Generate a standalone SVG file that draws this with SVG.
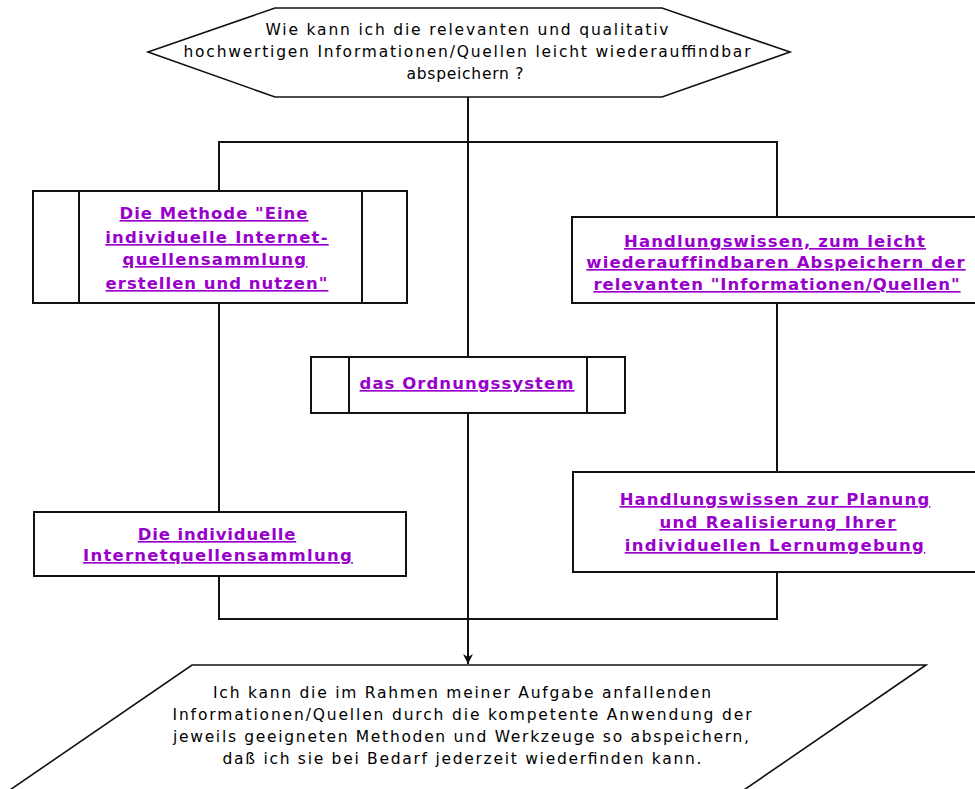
<svg xmlns="http://www.w3.org/2000/svg" width="975" height="789" viewBox="0 0 975 789">
<style>
.n{fill:#fff;stroke:#111;stroke-width:2}
.s{fill:none;stroke:#111;stroke-width:2}
.c{fill:none;stroke:#111;stroke-width:2}
.t{font-family:"DejaVu Sans",sans-serif;font-size:15.5px;fill:#000;text-anchor:middle}
.l{font-family:"DejaVu Sans",sans-serif;font-weight:bold;font-size:16.5px;fill:#9900cc;text-anchor:middle;text-decoration:underline}
</style>
<defs>
<marker id="arr" markerUnits="userSpaceOnUse" markerWidth="10" markerHeight="12" refX="10" refY="5" orient="auto">
<path d="M0,0 L10,5 L0,10 L3,5 z" fill="#111"/>
</marker>
</defs>
<rect width="975" height="789" fill="#fff"/>
<g id="connectors">
<path class="c" d="M468,97 V357"/>
<path class="c" d="M468,413 V664" marker-end="url(#arr)"/>
<path class="c" d="M219,191 V142 H777 V217"/>
<path class="c" d="M219,303 V512"/>
<path class="c" d="M777,303 V472"/>
<path class="c" d="M219,576 V619 H777 V572"/>
</g>
<g id="question">
<polygon class="n" points="148,52 275,8 662,8 790,52 662,97 275,97" style="stroke-width:1.6"/>
<text class="t" x="467" y="35" textLength="403" lengthAdjust="spacing">Wie kann ich die relevanten und qualitativ</text>
<text class="t" x="467" y="57" textLength="567" lengthAdjust="spacing">hochwertigen Informationen/Quellen leicht wiederauffindbar</text>
<text class="t" x="465" y="79" textLength="117" lengthAdjust="spacing">abspeichern ?</text>
</g>
<g id="methode">
<rect class="n" x="33" y="191" width="374" height="112"/>
<line class="s" x1="79" y1="191" x2="79" y2="303"/>
<line class="s" x1="362" y1="191" x2="362" y2="303"/>
<text class="l" x="214" y="219" style="letter-spacing:1px">Die Methode "Eine</text>
<text class="l" x="217" y="243" style="letter-spacing:1.2px">individuelle Internet-</text>
<text class="l" x="215" y="265" style="letter-spacing:1.3px">quellensammlung</text>
<text class="l" x="217" y="289" style="letter-spacing:1px">erstellen und nutzen"</text>
</g>
<g id="handlungswissen1">
<rect class="n" x="572" y="217" width="410" height="86"/>
<text class="l" x="775" y="247" style="letter-spacing:1.15px">Handlungswissen, zum leicht</text>
<text class="l" x="776" y="268" style="letter-spacing:1.1px">wiederauffindbaren Abspeichern der</text>
<text class="l" x="777" y="290" style="letter-spacing:1px">relevanten "Informationen/Quellen"</text>
</g>
<g id="ordnungssystem">
<rect class="n" x="311" y="357" width="314" height="56"/>
<line class="s" x1="349" y1="357" x2="349" y2="413"/>
<line class="s" x1="587" y1="357" x2="587" y2="413"/>
<text class="l" x="467" y="389" style="letter-spacing:1.05px">das Ordnungssystem</text>
</g>
<g id="internetquellensammlung">
<rect class="n" x="34" y="512" width="372" height="64"/>
<text class="l" x="217" y="540" style="letter-spacing:0.85px">Die individuelle</text>
<text class="l" x="218" y="561" style="letter-spacing:1.25px">Internetquellensammlung</text>
</g>
<g id="handlungswissen2">
<rect class="n" x="573" y="472" width="410" height="100"/>
<text class="l" x="775" y="505" style="letter-spacing:1.15px">Handlungswissen zur Planung</text>
<text class="l" x="778" y="528" style="letter-spacing:1.3px">und Realisierung Ihrer</text>
<text class="l" x="775" y="551" style="letter-spacing:1.3px">individuellen Lernumgebung</text>
</g>
<g id="ergebnis">
<polygon class="n" points="192,665 926,665 722,805 -12,805" style="stroke-width:1.6"/>
<text class="t" x="462" y="698" textLength="498" lengthAdjust="spacing">Ich kann die im Rahmen meiner Aufgabe anfallenden</text>
<text class="t" x="462" y="720" textLength="579" lengthAdjust="spacing">Informationen/Quellen durch die kompetente Anwendung der</text>
<text class="t" x="461" y="742" textLength="576" lengthAdjust="spacing">jeweils geeigneten Methoden und Werkzeuge so abspeichern,</text>
<text class="t" x="462" y="764" textLength="479" lengthAdjust="spacing">daß ich sie bei Bedarf jederzeit wiederfinden kann.</text>
</g>
</svg>
